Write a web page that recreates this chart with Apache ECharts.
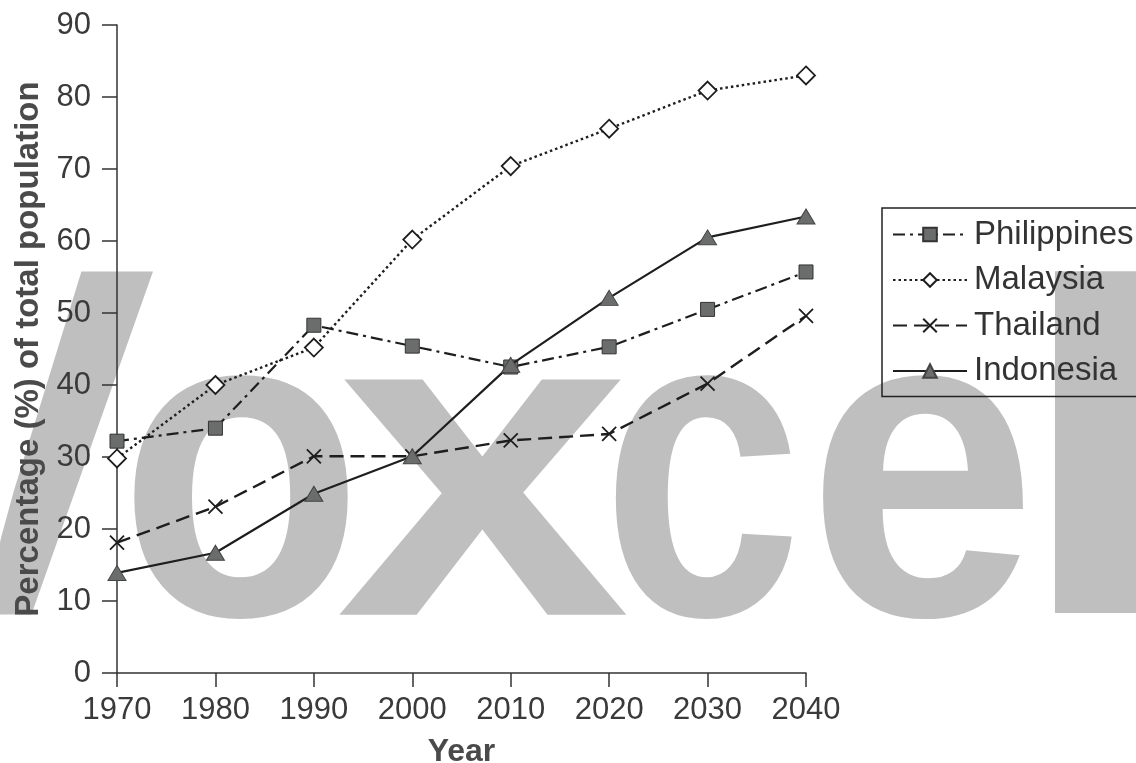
<!DOCTYPE html>
<html>
<head>
<meta charset="utf-8">
<script src="https://cdn.jsdelivr.net/npm/echarts@6/dist/echarts.min.js"></script>
<style>
  html, body { margin: 0; padding: 0; background: #fff; }
  #chart { width: 1136px; height: 763px; }
</style>
</head>
<body>
<div id="chart"></div>
<script>
const years = ['1970', '1980', '1990', '2000', '2010', '2020', '2030', '2040']
const yTicks = [0, 10, 20, 30, 40, 50, 60, 70, 80, 90]

// 城市人口比例 (%)
const philippines = [32.2, 34.0, 48.3, 45.4, 42.5, 45.3, 50.5, 55.7]
const malaysia = [29.8, 40.0, 45.2, 60.2, 70.4, 75.6, 80.9, 83.0]
const thailand = [18.1, 23.1, 30.1, 30.1, 32.3, 33.2, 40.2, 49.6]
const indonesia = [13.9, 16.7, 24.9, 30.1, 42.8, 52.1, 60.5, 63.4]

const ink = '#1e1e1e'
const fillGray = '#6b6d6d'
const font = 'Liberation Sans, Arial, sans-serif'

// 背景水印，逐个字母摆放
const mark = [
  { ch: 'V', x: -4, sx: 1.08, sy: 1.12, y: 477 },
  { ch: 'o', x: 241, sx: 0.90, sy: 1, y: 492 },
  { ch: 'x', x: 483, sx: 1.19, sy: 1, y: 492 },
  { ch: 'c', x: 702, sx: 0.81, sy: 1, y: 492 },
  { ch: 'e', x: 922, sx: 0.93, sy: 1, y: 492 },
  { ch: 'l', x: 1098, sx: 1.4, sy: 1.06, y: 483 }
]
const markGraphic = mark.map(m => ({
  type: 'text',
  z: -10,
  silent: true,
  x: m.x,
  y: m.y,
  scaleX: m.sx,
  scaleY: m.sy,
  style: {
    text: m.ch,
    font: 'bold 445px Liberation Sans, Arial, sans-serif',
    fill: '#bfbfbf',
    verticalAlign: 'middle',
    align: 'center'
  }
}))

const chart = echarts.init(document.getElementById('chart'))

const option = {
  backgroundColor: '#fff',
  animation: false,
  graphic: markGraphic,
  grid: { left: 117, right: 330, top: 25, bottom: 90, outerBoundsMode: 'none', containLabel: false },
  legend: {
    orient: 'vertical',
    left: 882,
    top: 208,
    padding: [10, 50, 9, 10],
    itemGap: 12.5,
    itemWidth: 74,
    itemHeight: 17,
    borderColor: '#222',
    borderWidth: 1.5,
    textStyle: { fontFamily: font, fontSize: 33, color: '#333', padding: [0, 0, 0, 2] },
    data: ['Philippines', 'Malaysia', 'Thailand', 'Indonesia']
  },
  xAxis: {
    type: 'category',
    data: years,
    boundaryGap: false,
    name: 'Year',
    nameLocation: 'middle',
    nameGap: 63,
    nameTextStyle: { fontFamily: font, fontSize: 32, fontWeight: 'bold', color: '#4a4a4a' },
    axisLine: { lineStyle: { color: '#333', width: 1.5 } },
    axisTick: { alignWithLabel: true, length: 14, lineStyle: { color: '#333', width: 1.5 } },
    axisLabel: { fontFamily: font, fontSize: 31, color: '#3a3a3a', margin: 22 },
    splitLine: { show: false }
  },
  yAxis: {
    type: 'value',
    min: 0,
    max: 90,
    interval: 10,
    name: 'Percentage (%) of total population',
    nameLocation: 'middle',
    nameGap: 71,
    nameTextStyle: { fontFamily: font, fontSize: 33, fontWeight: 'bold', color: '#4a4a4a' },
    axisLine: { show: true, lineStyle: { color: '#333', width: 1.5 } },
    axisTick: { show: true, length: 15, lineStyle: { color: '#333', width: 1.5 } },
    axisLabel: {
      fontFamily: font, fontSize: 31, color: '#3a3a3a', margin: 26,
      formatter: v => yTicks.includes(v) ? String(v) : ''
    },
    splitLine: { show: false }
  },
  series: [
    {
      name: 'Philippines',
      type: 'line',
      data: philippines,
      symbol: 'rect',
      symbolSize: 14,
      lineStyle: { color: ink, width: 2.2, type: [12, 5, 3, 5] },
      itemStyle: { color: fillGray, borderColor: '#333', borderWidth: 1 },
      z: 3
    },
    {
      name: 'Malaysia',
      type: 'line',
      data: malaysia,
      symbol: 'diamond',
      symbolSize: [18, 18],
      lineStyle: { color: ink, width: 2.4, type: [2.5, 3] },
      itemStyle: { color: '#fff', borderColor: ink, borderWidth: 1.8 },
      z: 4
    },
    {
      name: 'Thailand',
      type: 'line',
      data: thailand,
      symbol: 'path://M0,0L10,10M10,0L0,10',
      symbolSize: 14,
      lineStyle: { color: ink, width: 2.4, type: [14, 7] },
      itemStyle: { color: 'none', borderColor: ink, borderWidth: 1.8 },
      z: 3
    },
    {
      name: 'Indonesia',
      type: 'line',
      data: indonesia,
      symbol: 'triangle',
      symbolSize: [18, 15],
      lineStyle: { color: ink, width: 2.2, type: 'solid' },
      itemStyle: { color: fillGray, borderColor: '#444', borderWidth: 1 },
      z: 5
    }
  ]
}

chart.setOption(option)
window.addEventListener('resize', () => chart.resize())
</script>
</body>
</html>
